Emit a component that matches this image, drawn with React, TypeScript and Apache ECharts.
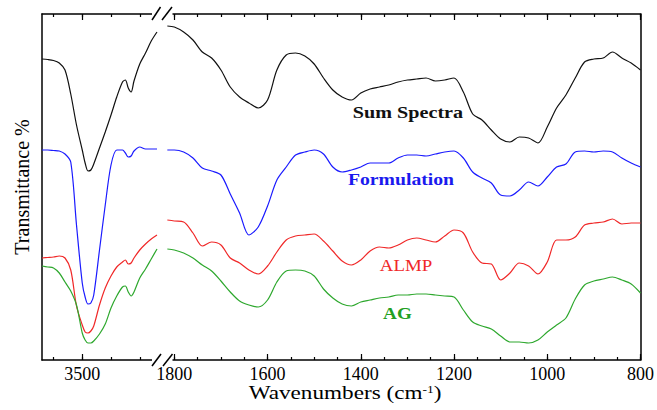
import React, { useEffect, useRef } from 'react';
import * as echarts from 'echarts';

// ---------- data ----------
// left panel (O-H region), wavenumbers in cm-1
const leftWn = [3640, 3620, 3600, 3580, 3560, 3540, 3520, 3500, 3490, 3480, 3470, 3460, 3440, 3420, 3400, 3380, 3360, 3350, 3340, 3330, 3320, 3300, 3280, 3260, 3240];
// right panel (fingerprint region)
const rightWn = [1815, 1800, 1780, 1760, 1740, 1720, 1700, 1680, 1660, 1640, 1620, 1600, 1580, 1560, 1540, 1520, 1500, 1480, 1460, 1440, 1420, 1400, 1380, 1360, 1340, 1320, 1300, 1280, 1260, 1240, 1220, 1200, 1180, 1160, 1140, 1120, 1100, 1080, 1060, 1040, 1020, 1000, 980, 960, 940, 920, 900, 880, 860, 840, 820, 800];

// transmittance (arbitrary offset units)
const sumLeft = [301, 300.5, 299.5, 297, 290, 266, 235, 210, 197, 189, 190, 196, 212, 228, 245, 263, 278, 280, 272, 268, 279, 296, 307, 319, 328];
const formulationLeft = [210, 210, 209.5, 209, 206, 198, 135, 77, 63, 56, 57, 65, 110, 155, 195, 210, 210, 207, 203, 204, 209, 213, 211, 211, 211];
const almpLeft = [102, 102.5, 103, 104, 102, 90, 54, 35, 28, 27, 29, 34, 55, 72, 84, 93, 98, 100, 96, 97, 102, 110, 116, 121, 125];
const agLeft = [94, 93, 92, 87, 78, 69, 55, 27, 20, 17, 17, 19, 26, 36, 52, 64, 73, 74, 68, 64, 68, 82, 91, 101, 111];

const sumRight = [334, 333, 328, 320, 308, 302, 290, 273, 263, 257, 252, 260, 290, 305, 307, 304, 296, 282, 270, 263, 260, 267, 271, 273, 275, 278, 280, 281, 282, 279, 280, 282, 268, 246, 240, 230, 221, 218, 223, 222, 217, 233, 252, 265, 282, 298, 301, 302, 308, 302, 297, 290];
const formulationRight = [210, 210, 208, 202, 192, 189, 185, 166, 147, 125, 133, 154, 180, 193, 205, 208, 210, 206, 193, 188, 190, 193, 197, 197, 197, 202, 205, 205, 204, 206, 208, 209, 202, 188, 182, 177, 165, 164, 170, 178, 174, 183, 193, 196, 208, 209, 208, 209, 208, 202, 197, 193];
const almpRight = [140, 139, 138, 127, 114, 118, 115, 102, 97, 90, 86, 94, 108, 120, 124, 125, 126, 119, 109, 99, 95, 100, 109, 113, 112, 115, 120, 122, 120, 118, 124, 130, 127, 108, 97, 96, 80, 87, 97, 94, 86, 98, 120, 120, 123, 135, 137, 138, 141, 136, 137, 137];
const agRight = [111, 110, 107, 102, 95, 89, 79, 68, 59, 55, 53, 60, 78, 89, 90, 89, 84, 71, 62, 56, 54, 58, 60, 62, 63, 65, 65, 66, 66, 65, 64, 63, 50, 38, 34, 31, 24, 18, 18, 17, 20, 28, 35, 42, 61, 75, 79, 81, 83, 80, 76, 67];

const seriesNames = ['Sum Spectra', 'Formulation', 'ALMP', 'AG'];
const seriesColors = ['#111111', '#1a1aff', '#f02828', '#2ea82e'];
const leftValues = [sumLeft, formulationLeft, almpLeft, agLeft];
const rightValues = [sumRight, formulationRight, almpRight, agRight];

// ticks
const leftMinorTicks = [3600, 3500, 3400, 3300];
const leftMajorTicks = [3500];
const rightMinorTicks = [1800, 1750, 1700, 1650, 1600, 1550, 1500, 1450, 1400, 1350, 1300, 1250, 1200, 1150, 1100, 1050, 1000, 950, 900, 850, 800];
const rightMajorTicks = [1800, 1600, 1400, 1200, 1000, 800];

const SERIF = 'Liberation Serif';

function axisSet(gridIndex: number, min: number, max: number, minor: number[], major: number[]) {
  const base: any = {
    type: 'value', gridIndex, min, max, inverse: true,
    splitLine: { show: false },
    axisLabel: { show: false },
    axisTick: { show: false },
    axisLine: { show: false, onZero: false },
  };
  const line = { show: true, onZero: false, lineStyle: { color: '#000', width: 1.5 } };
  const minorTick = { show: true, inside: true, length: 3, customValues: minor, lineStyle: { color: '#000', width: 1.2 } };
  const majorTick = { show: true, inside: true, length: 6, customValues: major, lineStyle: { color: '#000', width: 1.2 } };
  return [
    { ...base, position: 'bottom', axisLine: line, axisTick: minorTick },
    {
      ...base, position: 'bottom', axisTick: majorTick,
      axisLabel: {
        show: true, customValues: major, margin: 5, fontSize: 18, fontFamily: SERIF, color: '#000',
        showMinLabel: true, showMaxLabel: true,
        formatter: (v: number) => String(v),
      },
    },
    { ...base, position: 'top', axisLine: line, axisTick: minorTick },
    { ...base, position: 'top', axisTick: majorTick },
  ];
}

export default function App() {
  const ref = useRef<HTMLDivElement>(null);
  useEffect(() => {
    if (!ref.current) return;
    const chart = echarts.init(ref.current, null, { renderer: 'svg' });

    const xAxes = [
      ...axisSet(0, 3240, 3640, leftMinorTicks, leftMajorTicks),
      ...axisSet(1, 800, 1820, rightMinorTicks, rightMajorTicks),
    ];

    const series: any[] = [];
    seriesNames.forEach((name, i) => {
      series.push({
        name, type: 'line', xAxisIndex: 0, yAxisIndex: 0,
        data: leftWn.map((w, k) => [w, leftValues[i][k]]),
        showSymbol: false, smooth: 0.3, lineStyle: { color: seriesColors[i], width: 1.2 },
        itemStyle: { color: seriesColors[i] },
      });
      series.push({
        name, type: 'line', xAxisIndex: 4, yAxisIndex: 1,
        data: rightWn.map((w, k) => [w, rightValues[i][k]]),
        showSymbol: false, smooth: 0.3, lineStyle: { color: seriesColors[i], width: 1.2 },
        itemStyle: { color: seriesColors[i] },
      });
    });

    const label = (text: string, x: number, y: number, color: string, bold: boolean, scaleX: number) => ({
      type: 'text', x, y, scaleX, z: 120,
      style: {
        text, fill: color,
        fontSize: 16, fontFamily: SERIF, fontWeight: bold ? 'bold' : 'normal',
        textAlign: 'center', textVerticalAlign: 'middle', align: 'center', verticalAlign: 'middle',
      },
    });

    chart.setOption({
      animation: false,
      backgroundColor: '#ffffff',
      grid: [
        { left: 42, top: 14, width: 115, height: 346, containLabel: false },
        { left: 165, top: 14, width: 477, height: 346, containLabel: false },
      ],
      xAxis: xAxes,
      yAxis: [
        {
          type: 'value', gridIndex: 0, min: 0, max: 346, position: 'left',
          axisLine: { show: true, onZero: false, lineStyle: { color: '#000', width: 1.5 } },
          axisTick: { show: false }, axisLabel: { show: false }, splitLine: { show: false },
          name: 'Transmittance %', nameLocation: 'middle', nameGap: 10,
          nameTextStyle: { fontSize: 20, fontFamily: SERIF, color: '#000' },
        },
        {
          type: 'value', gridIndex: 1, min: 0, max: 346, position: 'right',
          axisLine: { show: true, onZero: false, lineStyle: { color: '#000', width: 1.5 } },
          axisTick: { show: false }, axisLabel: { show: false }, splitLine: { show: false },
        },
      ],
      series,
      graphic: [
        // axis break gaps
        { type: 'rect', z: 100, shape: { x: 152, y: 356, width: 20.5, height: 7 }, style: { fill: '#fff' } },
        { type: 'rect', z: 100, shape: { x: 152, y: 10.5, width: 20.5, height: 7 }, style: { fill: '#fff' } },
        { type: 'line', z: 101, shape: { x1: 152, y1: 366, x2: 161, y2: 354 }, style: { stroke: '#000', lineWidth: 1.5 } },
        { type: 'line', z: 101, shape: { x1: 163, y1: 366, x2: 172.5, y2: 354 }, style: { stroke: '#000', lineWidth: 1.5 } },
        { type: 'line', z: 101, shape: { x1: 152, y1: 20, x2: 160.5, y2: 7 }, style: { stroke: '#000', lineWidth: 1.5 } },
        { type: 'line', z: 101, shape: { x1: 162, y1: 20, x2: 172, y2: 7 }, style: { stroke: '#000', lineWidth: 1.5 } },
        // series labels
        label('Sum Spectra', 408, 113, '#111111', true, 1.26),
        label('Formulation', 401, 180, '#1a1aee', true, 1.23),
        label('ALMP', 406, 266, '#f02828', false, 1.18),
        label('AG', 397.5, 314, '#22a022', true, 1.2),
        // x-axis title
        {
          type: 'text', x: 345, y: 393, scaleX: 1.22, z: 120,
          style: {
            text: '{a|Wavenumbers (cm}{s|-1}{a|)}',
            fontFamily: SERIF, fontSize: 19,
            rich: {
              a: { fontSize: 19, fontFamily: SERIF, fill: '#000', color: '#000' },
              s: { fontSize: 11, fontFamily: SERIF, fill: '#000', color: '#000', verticalAlign: 'top' },
            },
            textAlign: 'center', textVerticalAlign: 'middle', align: 'center', verticalAlign: 'middle',
          },
        },
      ],
    });
    return () => chart.dispose();
  }, []);
  return (
    <div
      ref={ref}
      style={{ position: 'fixed', left: 0, top: 0, width: 657, height: 410, background: '#fff' }}
    />
  );
}
